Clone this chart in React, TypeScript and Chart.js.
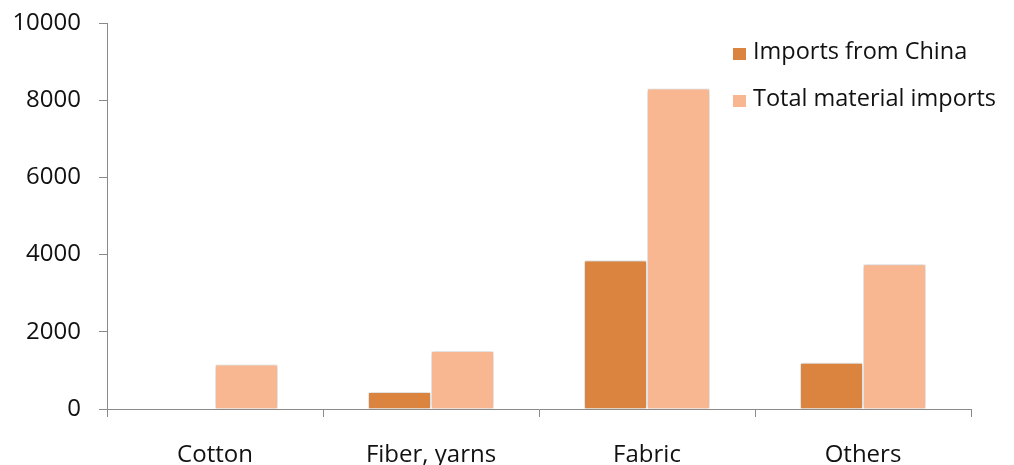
import React, { useEffect, useRef } from 'react';
import { Chart, registerables } from 'chart.js';

Chart.register(...registerables);

const categories = ['Cotton', 'Fiber, yarns', 'Fabric', 'Others'];
const seriesNames = ['Imports from China', 'Total material imports'];
const importsFromChina = [0, 440, 3850, 1200];
const totalMaterialImports = [1150, 1500, 8300, 3750];
const yTickValues = [0, 2000, 4000, 6000, 8000, 10000];

const DARK = '#DA843F';
const LIGHT = '#F8B691';
const AXIS = '#8a8a8a';
const FONT = "'Open Sans', sans-serif";
const FONT_SIZE = 24;
const LEGEND_SIZE = 23.5;

const shadowPlugin = {
  id: 'barShadow',
  beforeDatasetsDraw(chart: any) {
    const ctx = chart.ctx;
    ctx.save();
    ctx.shadowColor = 'rgba(0,0,0,0.28)';
    ctx.shadowBlur = 4;
    ctx.shadowOffsetX = 0;
    ctx.shadowOffsetY = 0;
  },
  afterDatasetsDraw(chart: any) {
    chart.ctx.restore();
  },
};

const legendPlugin = {
  id: 'customLegend',
  afterDraw(chart: any) {
    const ctx = chart.ctx;
    const x0 = chart.chartArea.right - 238;
    const rows = [59, 106];
    ctx.save();
    ctx.font = `${LEGEND_SIZE}px ${FONT}`;
    ctx.textBaseline = 'alphabetic';
    ctx.textAlign = 'left';
    chart.data.datasets.forEach((ds: any, i: number) => {
      const base = rows[i];
      ctx.fillStyle = ds.backgroundColor;
      ctx.fillRect(x0, base - 11, 13, 12);
      ctx.fillStyle = '#111';
      ctx.fillText(ds.label, x0 + 20, base);
    });
    ctx.restore();
  },
};

export default function App() {
  const ref = useRef<HTMLCanvasElement | null>(null);
  useEffect(() => {
    document.body.style.margin = '0';
    if (!ref.current) return;
    const chart = new Chart(ref.current, {
      type: 'bar',
      data: {
        labels: categories,
        datasets: [
          {
            label: seriesNames[0],
            data: importsFromChina,
            backgroundColor: DARK,
            borderColor: '#ffffff',
            borderWidth: 1,
            categoryPercentage: 0.583,
            barPercentage: 1,
          },
          {
            label: seriesNames[1],
            data: totalMaterialImports,
            backgroundColor: LIGHT,
            borderColor: '#ffffff',
            borderWidth: 1,
            categoryPercentage: 0.583,
            barPercentage: 1,
          },
        ],
      },
      options: {
        responsive: false,
        animation: false,
        layout: { padding: { top: 0, right: 43, left: 0, bottom: 0 } },
        plugins: {
          legend: { display: false },
          tooltip: { enabled: false },
        },
        scales: {
          x: {
            afterFit(scale: any) {
              scale.height = 56;
              scale.paddingLeft = 0;
              scale.paddingRight = 0;
            },
            grid: {
              display: true,
              drawOnChartArea: false,
              drawTicks: true,
              tickLength: 8,
              tickColor: AXIS,
              offset: true,
            },
            border: { display: true, color: AXIS, width: 1 },
            ticks: {
              color: '#111',
              padding: 24,
              font: { family: FONT, size: FONT_SIZE },
              maxRotation: 0,
            },
          },
          y: {
            min: 0,
            max: 10000,
            afterFit(scale: any) {
              scale.width = 107;
              scale.paddingTop = 23;
              scale.paddingBottom = 0;
            },
            afterBuildTicks(scale: any) {
              scale.ticks = yTickValues.map((v) => ({ value: v }));
            },
            grid: {
              display: true,
              drawOnChartArea: false,
              drawTicks: true,
              tickLength: 8,
              tickColor: AXIS,
            },
            border: { display: true, color: AXIS, width: 1 },
            ticks: {
              color: '#111',
              padding: 18,
              font: { family: FONT, size: FONT_SIZE },
              callback: (v: any) => String(v),
            },
          },
        },
      },
      plugins: [shadowPlugin, legendPlugin],
    });
    return () => chart.destroy();
  }, []);
  return <canvas ref={ref} width={1014} height={465} style={{ display: 'block' }} />;
}
